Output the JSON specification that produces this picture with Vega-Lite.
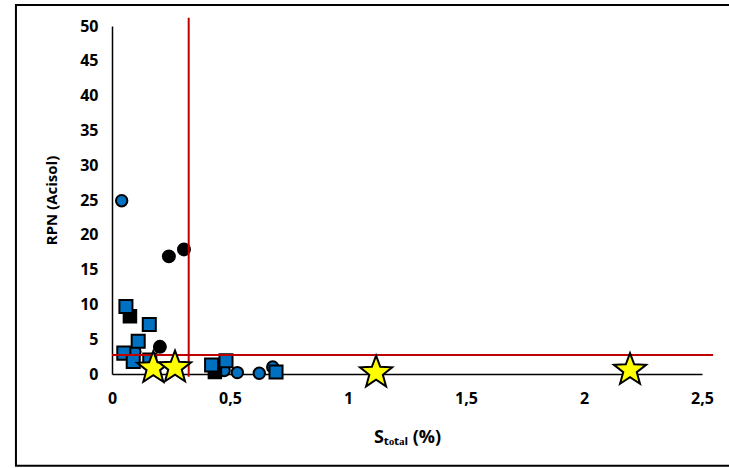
{
  "$schema": "https://vega.github.io/schema/vega-lite/v6.json",
  "width": 590,
  "height": 348,
  "autosize": {"type": "none"},
  "padding": {"left": 112, "top": 26, "right": 27, "bottom": 94},
  "background": "white",
  "config": {
    "view": {"stroke": null},
    "font": "Open Sans",
    "axis": {"grid": false, "domainColor": "#000000", "domainWidth": 1.5, "ticks": false, "labelOverlap": false, "labelFlush": false, "labelFont": "Open Sans", "labelFontWeight": "bold", "labelFontSize": 16, "labelColor": "#000000", "titleFont": "Open Sans", "titleFontWeight": "bold", "titleColor": "#000000"}
  },
  "datasets": {
    "pts": [
      {"x": 0.041, "y": 24.9, "g": "blue circle"},
      {"x": 0.097, "y": 3.2, "g": "blue circle"},
      {"x": 0.475, "y": 0.5, "g": "blue circle"},
      {"x": 0.531, "y": 0.2, "g": "blue circle"},
      {"x": 0.624, "y": 0.1, "g": "blue circle"},
      {"x": 0.681, "y": 1.0, "g": "blue circle"},
      {"x": 0.241, "y": 16.9, "g": "black circle"},
      {"x": 0.305, "y": 17.9, "g": "black circle"},
      {"x": 0.203, "y": 3.9, "g": "black circle"},
      {"x": 0.076, "y": 8.3, "g": "black square"},
      {"x": 0.436, "y": 0.3, "g": "black square"},
      {"x": 0.059, "y": 9.7, "g": "blue square"},
      {"x": 0.158, "y": 7.1, "g": "blue square"},
      {"x": 0.111, "y": 4.7, "g": "blue square"},
      {"x": 0.050, "y": 3.0, "g": "blue square"},
      {"x": 0.090, "y": 1.8, "g": "blue square"},
      {"x": 0.160, "y": 2.0, "g": "blue square"},
      {"x": 0.422, "y": 1.3, "g": "blue square"},
      {"x": 0.483, "y": 1.9, "g": "blue square"},
      {"x": 0.695, "y": 0.3, "g": "blue square"}
    ],
    "stars": [
      {"x": 0.175, "y": 0.86},
      {"x": 0.267, "y": 0.93},
      {"x": 1.119, "y": 0.2},
      {"x": 2.195, "y": 0.57}
    ],
    "vline": [{"x": 0.325, "y": -0.4, "y2": 51.2}],
    "hline": [{"x": 0, "x2": 2.547, "y": 2.73}],
    "frame": [{"x": -0.407, "x2": 2.8, "y": 53.0, "y2": -13.2}]
  },
  "encoding": {
    "x": {"field": "x", "type": "quantitative", "scale": {"domain": [0, 2.5], "nice": false, "zero": false},
          "axis": {"values": [0, 0.5, 1, 1.5, 2, 2.5], "format": "~g", "labelExpr": "replace(datum.label, '.', ',')", "labelPadding": 16, "title": "Sₜₒₜₐₗ (%)", "titleFontSize": 18, "titlePadding": 22}},
    "y": {"field": "y", "type": "quantitative", "scale": {"domain": [0, 50], "nice": false, "zero": false},
          "axis": {"values": [0, 5, 10, 15, 20, 25, 30, 35, 40, 45, 50], "labelPadding": 14, "title": "RPN (Acisol)", "titleFontSize": 15, "titlePadding": 20}}
  },
  "layer": [
    {
      "data": {"name": "pts"},
      "mark": {"type": "point", "filled": true, "strokeWidth": 2, "opacity": 1, "stroke": "#000000"},
      "encoding": {
        "shape": {"field": "g", "type": "nominal", "legend": null,
                  "scale": {"domain": ["blue circle", "black circle", "black square", "blue square"], "range": ["circle", "circle", "square", "square"]}},
        "fill": {"field": "g", "type": "nominal", "legend": null,
                 "scale": {"domain": ["blue circle", "black circle", "black square", "blue square"], "range": ["#0070C0", "#000000", "#000000", "#0070C0"]}},
        "size": {"field": "g", "type": "nominal", "legend": null,
                 "scale": {"domain": ["blue circle", "black circle", "black square", "blue square"], "range": [130, 170, 150, 150]}}
      }
    },
    {
      "data": {"name": "vline"},
      "mark": {"type": "rule", "color": "#C00000", "strokeWidth": 2, "clip": false},
      "encoding": {"y2": {"field": "y2"}}
    },
    {
      "data": {"name": "hline"},
      "mark": {"type": "rule", "color": "#C00000", "strokeWidth": 2, "clip": false},
      "encoding": {"x2": {"field": "x2"}}
    },
    {
      "data": {"name": "stars"},
      "mark": {"type": "point", "filled": true, "fill": "#FFFF00", "stroke": "#000000", "strokeWidth": 2, "opacity": 1, "size": 1150, "clip": false,
               "shape": "M0,-1L0.247,-0.34L0.951,-0.309L0.399,0.13L0.588,0.809L0,0.42L-0.588,0.809L-0.399,0.13L-0.951,-0.309L-0.247,-0.34Z"},
      "encoding": {}
    },
    {
      "data": {"name": "frame"},
      "mark": {"type": "rect", "fill": null, "stroke": "#000000", "strokeWidth": 2, "clip": false},
      "encoding": {"x2": {"field": "x2"}, "y2": {"field": "y2"}}
    }
  ]
}
